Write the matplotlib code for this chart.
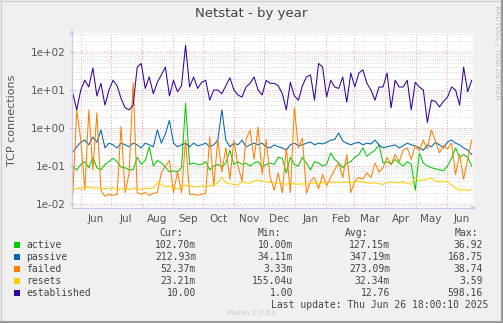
import matplotlib.pyplot as plt
import matplotlib.dates as mdates
import numpy as np
import pandas as pd
from matplotlib.patches import Rectangle
from matplotlib.lines import Line2D

# Valeurs (un point tous les ~4 jours)
start_date = "2024-05-24"
end_date = "2025-06-26"

established = [
    8.3, 3.0, 10, 18, 12, 38, 7, 15, 4, 10, 18, 13, 6, 3.4, 3.0, 4, 40, 50, 11, 22,
    8, 16, 25, 40, 7, 18, 9, 13, 150, 12, 22, 11, 16, 18, 5.4, 10, 10, 8, 13, 21,
    10, 7.4, 6.5, 12, 15, 22, 10, 7.4, 18, 15, 15, 13, 8, 3.0, 16, 7, 5.4, 13, 22, 25,
    5.4, 50, 40, 6.5, 18, 12, 11, 22, 4.8, 28, 12, 28, 34, 15, 10, 5.4, 12, 12, 28, 3.4,
    18, 12, 12, 18, 3.0, 16, 12, 10, 1.4, 5.4, 5, 3.6, 5, 6.5, 12, 10, 4, 40, 9, 18,
]
passive = [
    0.23, 0.32, 0.42, 0.48, 0.36, 0.58, 0.42, 0.89, 0.30, 0.40, 0.36, 0.30, 0.40, 0.36, 0.32, 0.40, 0.36, 0.30, 0.40, 0.36,
    0.32, 0.89, 0.40, 0.70, 1.6, 0.40, 0.32, 0.36, 0.40, 0.32, 0.40, 0.34, 0.36, 0.40, 0.32, 0.36, 0.48, 3.0, 0.48, 0.32,
    0.40, 0.36, 0.48, 0.32, 0.36, 0.40, 0.36, 0.40, 0.32, 0.30, 0.36, 0.32, 0.30, 0.26, 0.36, 0.40, 0.34, 0.36, 0.40, 0.43,
    0.36, 0.40, 0.38, 0.42, 0.48, 0.50, 0.74, 0.45, 0.40, 0.36, 0.40, 0.42, 0.36, 0.40, 0.38, 0.48, 0.36, 0.30, 0.32, 0.34,
    0.36, 0.30, 0.34, 0.40, 0.36, 0.34, 0.30, 0.26, 0.36, 0.32, 0.42, 0.36, 0.30, 0.43, 0.48, 0.40, 0.36, 0.30, 0.26, 0.20,
]
active = [
    0.094, 0.079, 0.11, 0.13, 0.09, 0.17, 0.09, 0.079, 0.11, 0.13, 0.16, 0.13, 0.094, 0.09, 0.079, 0.08, 0.17, 0.11, 0.14, 0.32,
    0.10, 0.14, 0.12, 0.094, 0.07, 0.075, 0.07, 0.09, 4.5, 0.11, 0.12, 0.11, 0.11, 0.13, 0.079, 0.10, 0.11, 0.094, 0.12, 0.26,
    0.11, 0.13, 0.11, 0.12, 0.10, 0.12, 0.13, 0.094, 0.11, 0.12, 0.11, 0.17, 0.16, 0.066, 0.17, 0.11, 0.10, 0.17, 0.12, 0.079,
    0.13, 0.12, 0.10, 0.11, 0.22, 0.15, 0.12, 0.09, 0.12, 0.13, 0.17, 0.20, 0.30, 0.18, 0.22, 0.26, 0.36, 0.12, 0.13, 0.11,
    0.15, 0.12, 0.10, 0.13, 0.11, 0.023, 0.22, 0.12, 0.10, 0.09, 0.085, 0.079, 0.075, 0.10, 0.16, 0.30, 0.17, 0.20, 0.17, 0.10,
]
resets = [
    0.023, 0.026, 0.025, 0.027, 0.028, 0.026, 0.027, 0.024, 0.026, 0.025, 0.027, 0.024, 0.025, 0.026, 0.024, 0.026, 0.025, 0.024, 0.026, 0.025,
    0.027, 0.036, 0.033, 0.028, 0.030, 0.026, 0.025, 0.027, 0.032, 0.030, 0.028, 0.029, 0.030, 0.029, 0.030, 0.032, 0.036, 0.051, 0.036, 0.034,
    0.033, 0.032, 0.038, 0.036, 0.035, 0.040, 0.043, 0.040, 0.038, 0.037, 0.036, 0.034, 0.036, 0.033, 0.035, 0.034, 0.033, 0.034, 0.033, 0.035,
    0.036, 0.034, 0.036, 0.037, 0.038, 0.036, 0.038, 0.037, 0.038, 0.036, 0.038, 0.040, 0.038, 0.036, 0.035, 0.036, 0.034, 0.033, 0.036, 0.038,
    0.037, 0.036, 0.038, 0.035, 0.033, 0.051, 0.040, 0.043, 0.045, 0.048, 0.040, 0.038, 0.040, 0.038, 0.032, 0.026, 0.023, 0.024, 0.023, 0.024,
]
failed = [
    0.016, 3.0, 0.5, 0.023, 3.0, 0.08, 2.5, 0.023, 0.016, 0.018, 0.017, 0.018, 1.1, 0.02, 0.066, 16, 0.02, 0.018, 0.02, 0.017,
    0.019, 0.02, 0.066, 0.1, 0.14, 0.02, 0.07, 0.02, 0.48, 0.018, 0.018, 0.017, 0.018, 0.019, 0.58, 0.03, 0.5, 0.07, 0.3, 0.045,
    0.48, 0.1, 0.04, 0.5, 0.89, 0.15, 1.06, 0.06, 0.5, 0.05, 0.023, 0.066, 0.0195, 0.3, 0.02, 3.4, 0.3, 0.55, 0.019, 0.04,
    0.05, 0.025, 0.06, 0.03, 0.05, 0.08, 0.12, 0.05, 0.2, 0.02, 0.04, 0.05, 0.045, 0.066, 0.05, 0.12, 0.07, 0.09, 0.17, 0.11,
    0.2, 0.13, 0.26, 0.3, 0.15, 0.35, 0.25, 0.48, 0.28, 0.9, 0.45, 0.22, 0.35, 0.28, 0.4, 0.06, 0.2, 0.045, 0.15, 0.48,
]

series_names = ["active", "passive", "failed", "resets", "established"]
series_colors = ["#00CC00", "#0066B3", "#FF8000", "#FFCC00", "#330099"]
cur_values = ["102.70m", "212.93m", "52.37m", "23.21m", "10.00"]
min_values = ["10.00m", "34.11m", "3.33m", "155.04u", "1.00"]
avg_values = ["127.15m", "347.19m", "273.09m", "32.34m", "12.76"]
max_values = ["36.92", "168.75", "38.74", "3.59", "598.16"]

ytick_values = [0.01, 0.1, 1, 10, 100]
ytick_labels = ["1e-02", "1e-01", "1e+00", "1e+01", "1e+02"]

W, H = 503, 323


def fx(x):
    return x / W


def fy(y):
    return 1 - y / H


dates = pd.date_range(start_date, end_date, periods=len(established))
data = {
    "active": active,
    "passive": passive,
    "failed": failed,
    "resets": resets,
    "established": established,
}

fig = plt.figure(figsize=(W / 100, H / 100), dpi=100, facecolor="#F0F0F0")
ax = fig.add_axes([fx(72), fy(208), fx(473) - fx(72), fy(33) - fy(208)])
ax.set_facecolor("white")

for name, color in zip(series_names, series_colors):
    ax.plot(dates, data[name], color=color, linewidth=0.75)

ax.set_yscale("log")
ax.set_ylim(10 ** -2.105, 10 ** 2.5)
ax.set_xlim(pd.Timestamp("2024-05-23 07:00"), pd.Timestamp("2025-06-27 07:00"))

# grille : mois en rouge pointillé, mineurs en gris
ax.xaxis.set_major_locator(mdates.MonthLocator(bymonthday=1))
ax.xaxis.set_major_formatter(plt.NullFormatter())
ax.xaxis.set_minor_locator(mdates.MonthLocator(bymonthday=16))
ax.xaxis.set_minor_formatter(mdates.DateFormatter("%b"))
ax.tick_params(axis="x", which="major", length=0)
ax.tick_params(axis="x", which="minor", length=0, labelsize=7.5, labelcolor="#555555", pad=4)

ax.set_yticks(ytick_values)
ax.set_yticklabels(ytick_labels)
ax.yaxis.set_minor_locator(plt.LogLocator(base=10, subs=np.arange(2, 10)))
ax.yaxis.set_minor_formatter(plt.NullFormatter())
ax.tick_params(axis="y", which="major", length=3, direction="inout", color="#B0B0D8",
               labelsize=7.5, labelcolor="#555555", pad=3)
ax.tick_params(axis="y", which="minor", length=0)

ax.grid(True, axis="x", which="major", color="#E8A0A0", linestyle=(0, (1, 2)), linewidth=0.7)
ax.grid(True, axis="y", which="major", color="#E0A8A8", linestyle=(0, (1, 1.5)), linewidth=0.7)
ax.grid(True, axis="y", which="minor", color="#CFCFCF", linestyle=(0, (1, 1.5)), linewidth=0.6)
ax.set_axisbelow(True)

for side in ["top", "right"]:
    ax.spines[side].set_visible(False)
for side in ["left", "bottom"]:
    ax.spines[side].set_color("#C8C8F0")
    ax.spines[side].set_linewidth(0.8)

# flèches des axes
ax.annotate("", xy=(fx(479), fy(208)), xytext=(fx(472), fy(208)), xycoords="figure fraction",
            arrowprops=dict(arrowstyle="-|>", color="#C8C8F0", lw=0.8, mutation_scale=6))
ax.annotate("", xy=(fx(72), fy(27)), xytext=(fx(72), fy(34)), xycoords="figure fraction",
            arrowprops=dict(arrowstyle="-|>", color="#C8C8F0", lw=0.8, mutation_scale=6))

fig.text(0.5, fy(13), "Netstat - by year", ha="center", va="center", fontsize=9.5, color="#444444")
fig.text(fx(12), fy(120), "TCP connections", ha="center", va="center", rotation=90,
         fontsize=8, color="#555555")
fig.text(fx(497), fy(5), "RRDTOOL / TOBI OETIKER", ha="center", va="top", rotation=270,
         fontsize=5.3, color="#C0C0C0")

# légende type munin
mono = "DejaVu Sans Mono"
header_y = 233
fig.text(fx(183), fy(header_y), "Cur:", ha="right", va="center", family=mono, fontsize=7, color="#444444")
fig.text(fx(281), fy(header_y), "Min:", ha="right", va="center", family=mono, fontsize=7, color="#444444")
fig.text(fx(368), fy(header_y), "Avg:", ha="right", va="center", family=mono, fontsize=7, color="#444444")
fig.text(fx(478), fy(header_y), "Max:", ha="right", va="center", family=mono, fontsize=7, color="#444444")

for i, name in enumerate(series_names):
    row_y = 245 + 12 * i
    fig.patches.append(Rectangle((fx(14), fy(row_y + 3)), fx(6), 6 / H, transform=fig.transFigure,
                                 facecolor=series_colors[i], edgecolor="none"))
    fig.text(fx(26), fy(row_y), name, ha="left", va="center", family=mono, fontsize=7, color="#444444")
    fig.text(fx(196), fy(row_y), cur_values[i], ha="right", va="center", family=mono, fontsize=7, color="#444444")
    fig.text(fx(293), fy(row_y), min_values[i], ha="right", va="center", family=mono, fontsize=7, color="#444444")
    fig.text(fx(390), fy(row_y), avg_values[i], ha="right", va="center", family=mono, fontsize=7, color="#444444")
    fig.text(fx(483), fy(row_y), max_values[i], ha="right", va="center", family=mono, fontsize=7, color="#444444")

fig.text(fx(488), fy(305), "Last update: Thu Jun 26 18:00:10 2025", ha="right", va="center",
         family=mono, fontsize=7, color="#444444")
fig.text(0.5, fy(313), "Munin 2.0.63", ha="center", va="center", fontsize=5.3, color="#C8C8C8")

# cadre de l'image
fig.lines.append(Line2D([0, 1], [fy(0.5), fy(0.5)], transform=fig.transFigure, color="#D0D0D0", lw=1))
fig.lines.append(Line2D([fx(0.5), fx(0.5)], [0, 1], transform=fig.transFigure, color="#D0D0D0", lw=1))
fig.lines.append(Line2D([fx(501.5), fx(501.5)], [0, 1], transform=fig.transFigure, color="#9A9A9A", lw=1.5))
fig.lines.append(Line2D([0, 1], [fy(321.5), fy(321.5)], transform=fig.transFigure, color="#9A9A9A", lw=1.5))

fig.savefig("out.png", dpi=100, facecolor=fig.get_facecolor())
